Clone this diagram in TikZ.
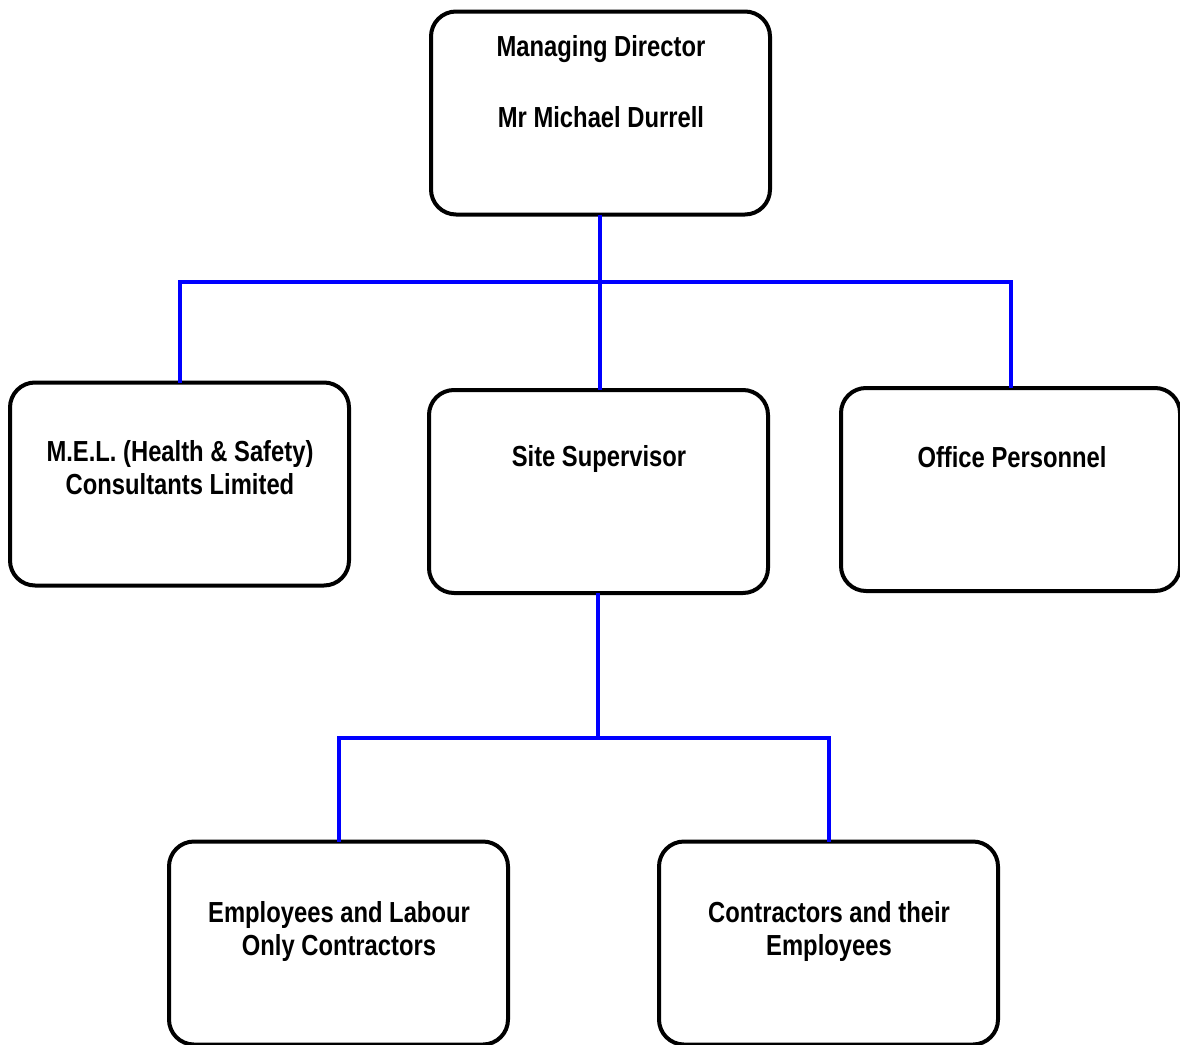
\documentclass[tikz,border=0pt]{standalone}
\usepackage{fontspec}
\newfontfamily\lab{Liberation Sans}[FakeStretch=0.82]
\begin{document}
\begin{tikzpicture}[x=1pt,y=-1pt,
  box/.style={draw=black, line width=4pt, rounded corners=25pt, minimum width=339pt, minimum height=203pt, outer sep=0pt, inner sep=0pt, fill=white},
  txt/.style={align=center, font=\lab\bfseries\fontsize{29}{33}\selectfont, inner sep=0pt},
  conn/.style={draw={rgb,255:red,0;green,0;blue,255}, line width=4pt}]
\useasboundingbox[fill=white] (0,0) rectangle (1180,1044);
\coordinate (j1) at (600,282);
\coordinate (j2) at (598,738);
% boxes
\node[box] (md)   at (600.5,113) {};
\node[box] (mel)  at (179.5,484) {};
\node[box] (site) at (598.5,491.5) {};
\node[box] (off)  at (1010.5,489.5) {};
\node[box] (emp)  at (338.5,943) {};
\node[box] (con)  at (828.5,943) {};
% connectors
\draw[conn] (md.south -| j1) -- (j1) -- (j1 |- site.north);
\draw[conn] (mel.north) |- (j1) -| (off.north);
\draw[conn] (site.south -| j2) -- (j2);
\draw[conn] (emp.north) |- (j2) -| (con.north);
% texts
\node[txt] (mdt1) at (601,49) {Managing Director};
\node[txt] (mdt2) at (601,117) {Mr Michael Durrell};
\node[txt] (melt) at (180,468) {M.E.L. (Health \& Safety)\\Consultants Limited};
\node[txt] (sitet) at (599,459) {Site Supervisor};
\node[txt] (offt) at (1012,457) {Office Personnel};
\node[txt] (empt) at (339,931) {Employees and Labour\\Only Contractors};
\node[txt] (cont) at (829,931) {Contractors and their\\Employees};
\end{tikzpicture}
\end{document}
